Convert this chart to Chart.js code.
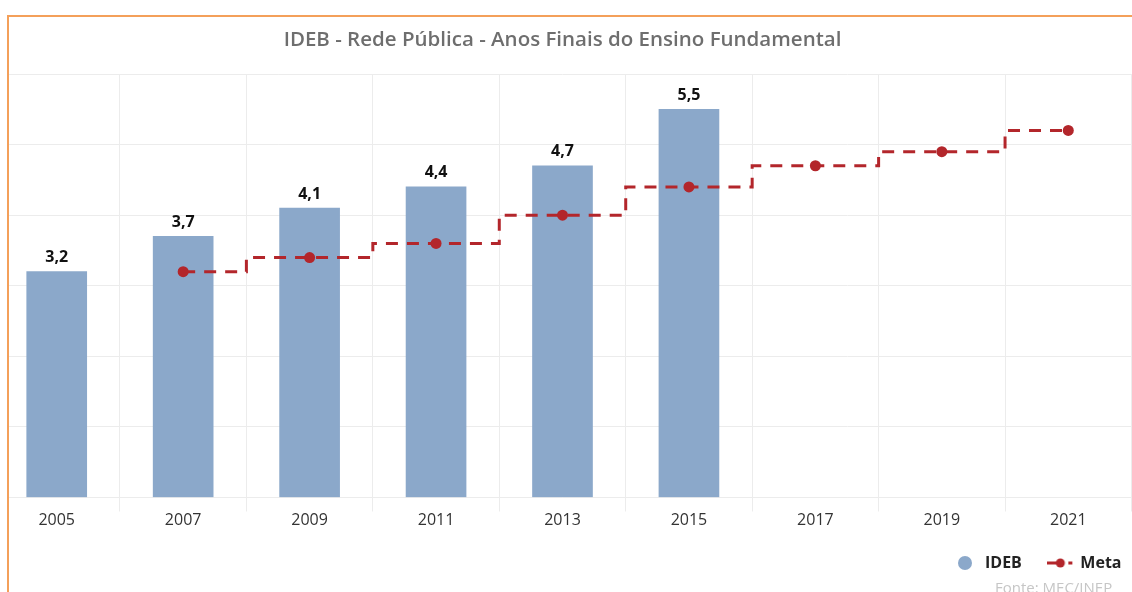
<!DOCTYPE html>
<html lang="pt-BR">
<head>
<meta charset="utf-8">
<title>IDEB - Rede Pública - Anos Finais do Ensino Fundamental</title>
<script src="https://cdn.jsdelivr.net/npm/chart.js@4.4.1/dist/chart.umd.min.js"></script>
<style>
    html, body { margin: 0; padding: 0; background: #fff; }
    body { width: 1132px; height: 592px; position: relative; overflow: hidden; font-family: 'Open Sans', sans-serif; }
    #frame {
        position: absolute; left: 7px; top: 15px; width: 1125px; height: 577px;
        border-left: 2px solid #f4a05a; border-top: 2px solid #f4a05a; overflow: hidden;
    }
    #wrap { position: absolute; left: -21px; top: -17px; width: 1160px; height: 581px; }
    #fonte { position: absolute; left: 995px; top: 577px; font-size: 15px; line-height: 20px; color: #c6c6c6; }
</style>
</head>
<body>
<div id="frame">
    <div id="wrap"><canvas id="idebChart"></canvas></div>
</div>
<div id="fonte">Fonte: MEC/INEP</div>

<script>
// dados
const anos = ['2005', '2007', '2009', '2011', '2013', '2015', '2017', '2019', '2021'];
const ideb = [3.2, 3.7, 4.1, 4.4, 4.7, 5.5, null, null, null];
const meta = [null, 3.2, 3.4, 3.6, 4.0, 4.4, 4.7, 4.9, 5.2];
const escalaY = [0, 6]; // min / max, linhas a cada 1

const azul = '#8ba8ca';
const vermelho = '#b3262b';
const grade = '#ececec';

// icones da legenda
function iconeIdeb() {
    const c = document.createElement('canvas');
    c.width = 16; c.height = 16;
    const g = c.getContext('2d');
    g.fillStyle = azul;
    g.beginPath();
    g.arc(8, 8, 7, 0, Math.PI * 2);
    g.fill();
    return c;
}

function iconeMeta() {
    const c = document.createElement('canvas');
    c.width = 26; c.height = 12;
    const g = c.getContext('2d');
    g.strokeStyle = vermelho;
    g.lineWidth = 3;
    g.beginPath();
    g.moveTo(0, 6); g.lineTo(9, 6);
    g.moveTo(21, 6); g.lineTo(25, 6);
    g.stroke();
    g.fillStyle = vermelho;
    g.beginPath();
    g.arc(13, 6, 4.5, 0, Math.PI * 2);
    g.fill();
    return c;
}

const icones = [iconeIdeb(), iconeMeta()];

// rotulos em cima das barras (3,2 etc)
const rotulos = {
    id: 'rotulos',
    afterDatasetsDraw(chart) {
        const ctx = chart.ctx;
        const barras = chart.getDatasetMeta(0).data;
        ctx.save();
        ctx.font = 'bold 16px "Open Sans", sans-serif';
        ctx.fillStyle = '#111';
        ctx.textAlign = 'center';
        ctx.textBaseline = 'middle';
        barras.forEach((bar, i) => {
            const v = ideb[i];
            if (v == null) return;
            ctx.fillText(v.toFixed(1).replace('.', ','), bar.x, bar.y - 14);
        });
        ctx.restore();
    }
};

const ctx = document.getElementById('idebChart').getContext('2d');

new Chart(ctx, {
    type: 'bar',
    data: {
        labels: anos,
        datasets: [{
            label: 'IDEB',
            data: ideb,
            backgroundColor: azul,
            barThickness: 60,
            order: 2
        }, {
            type: 'line',
            label: 'Meta',
            data: meta,
            borderColor: vermelho,
            borderWidth: 3,
            borderDash: [12, 9],
            stepped: 'middle',
            pointRadius: 5.5,
            pointBackgroundColor: vermelho,
            pointBorderColor: vermelho,
            pointBorderWidth: 0,
            fill: false,
            order: 1
        }]
    },
    options: {
        responsive: true,
        maintainAspectRatio: false,
        animation: false,
        scales: {
            x: {
                grid: { color: grade, tickLength: 14, offset: true },
                border: { color: grade },
                ticks: {
                    color: '#333',
                    padding: 3.7,
                    font: { size: 16, lineHeight: 0.6, family: "'Open Sans', sans-serif" }
                }
            },
            y: {
                position: 'right',
                min: escalaY[0],
                max: escalaY[1],
                ticks: { display: false, stepSize: 1 },
                grid: { color: grade, drawTicks: false },
                border: { display: false },
                afterFit: (s) => { s.width = 16.5; }
            }
        },
        plugins: {
            title: {
                display: true,
                fullSize: false,
                text: 'IDEB - Rede Pública - Anos Finais do Ensino Fundamental',
                color: '#6e6e6e',
                font: { size: 20.5, weight: '600', family: "'Open Sans', sans-serif" },
                padding: { top: 28, bottom: 21.4 }
            },
            legend: {
                position: 'bottom',
                align: 'end',
                labels: {
                    usePointStyle: true,
                    pointStyleWidth: 24,
                    boxHeight: 12,
                    padding: 26.5,
                    color: '#222',
                    font: { size: 16, weight: 'bold', family: "'Open Sans', sans-serif" },
                    generateLabels: (chart) => chart.data.datasets.map((ds, i) => ({
                        text: ds.label,
                        pointStyle: icones[i],
                        datasetIndex: i,
                        hidden: false,
                        fontColor: '#222',
                        lineWidth: 0,
                        strokeStyle: 'transparent',
                        fillStyle: 'transparent'
                    }))
                }
            },
            tooltip: { enabled: true }
        }
    },
    plugins: [rotulos]
});
</script>
</body>
</html>
